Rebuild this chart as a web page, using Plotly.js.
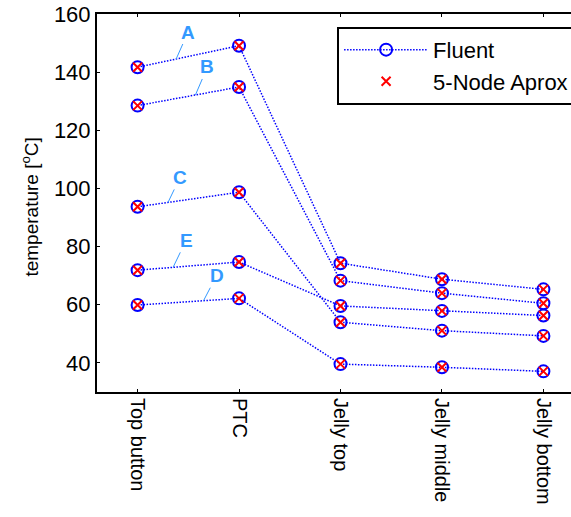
<!DOCTYPE html>
<html>
<head>
<meta charset="utf-8">
<script src="https://cdn.plot.ly/plotly-3.0.1.min.js"></script>
<style>
html, body { margin: 0; padding: 0; overflow: hidden; background: #fff; }
#chart { width: 600px; height: 517px; }
</style>
</head>
<body>
<div id="chart"></div>
<script>
// Categories along the x axis
const categories = ['Top button', 'PTC', 'Jelly top', 'Jelly middle', 'Jelly bottom'];

// Fluent results (temperature, °C) for each case
const fluentA = [141.7, 149.1, 74.3, 68.8, 65.3];
const fluentB = [128.5, 134.9, 68.3, 64.0, 60.5];
const fluentC = [93.7, 98.7, 54.0, 51.1, 49.3];
const fluentD = [59.9, 62.2, 39.6, 38.5, 37.1];
const fluentE = [71.9, 74.7, 59.6, 57.9, 56.3];

// 5-Node approximation results (temperature, °C)
const nodeA = [141.7, 149.1, 74.3, 68.8, 65.3];
const nodeB = [128.5, 134.9, 68.3, 64.0, 60.5];
const nodeC = [93.7, 98.7, 54.0, 51.1, 49.3];
const nodeD = [59.9, 62.2, 39.6, 38.5, 37.1];
const nodeE = [71.9, 74.7, 59.6, 57.9, 56.3];

// Case labels
const caseLabels = ['A', 'B', 'C', 'D', 'E'];
const yTicks = [40, 60, 80, 100, 120, 140, 160];

const fluentSeries = [fluentA, fluentB, fluentC, fluentD, fluentE];
const nodeSeries = [nodeA, nodeB, nodeC, nodeD, nodeE];
const xIdx = categories.map((c, i) => i);

const FONT = 'Arial, "Liberation Sans", Helvetica, sans-serif';
const traces = [];
fluentSeries.forEach((s, k) => {
  traces.push({
    x: xIdx, y: s, type: 'scatter', mode: 'lines+markers',
    name: 'Fluent', legendgroup: 'fluent', showlegend: k === 0,
    line: { color: 'rgb(0,0,255)', width: 1.5, dash: '1.5px,1.5px' },
    marker: { symbol: 'circle-open', size: 12, color: 'rgb(0,0,255)', line: { width: 2, color: 'rgb(0,0,255)' } },
    hoverinfo: 'skip'
  });
});
nodeSeries.forEach((s, k) => {
  traces.push({
    x: xIdx, y: s, type: 'scatter', mode: 'markers',
    name: '5-Node Aprox', legendgroup: 'node', showlegend: k === 0,
    marker: { symbol: 'x-thin-open', size: 9, color: 'rgb(255,0,0)', line: { width: 2, color: 'rgb(255,0,0)' } },
    hoverinfo: 'skip'
  });
});

// label placement along first segment (fraction) and text offsets in px
const labelFrac = { A: 0.38, B: 0.57, C: 0.30, D: 0.65, E: 0.35 };
const labelOff = { A: [12, -27], B: [12, -28], C: [12, -25], D: [13, -25], E: [13, -27] };
const annotations = caseLabels.map((lab, k) => {
  const s = fluentSeries[k];
  const t = labelFrac[lab];
  return {
    x: t, y: s[0] + t * (s[1] - s[0]), xref: 'x', yref: 'y',
    text: '<b>' + lab + '</b>', showarrow: true, arrowhead: 0, arrowwidth: 1,
    arrowcolor: '#3399ff', ax: labelOff[lab][0], ay: labelOff[lab][1],
    font: { family: FONT, size: 19, color: '#3399ff' }
  };
});
// y-axis title as a rotated annotation so it can sit where the reference has it
annotations.push({
  xref: 'paper', yref: 'paper', x: -0.138, y: 0.49, xanchor: 'center', yanchor: 'middle',
  text: 'temperature [<sup>o</sup>C]', textangle: -90, showarrow: false,
  font: { family: FONT, size: 19, color: '#000' }
});

const layout = {
  width: 600, height: 517,
  margin: { l: 97, r: 16, t: 14, b: 125 },
  paper_bgcolor: '#fff', plot_bgcolor: '#fff',
  font: { family: FONT, size: 20, color: '#000' },
  showlegend: true,
  legend: {
    x: 0.493, y: 0.966, xanchor: 'left', yanchor: 'top',
    bordercolor: '#000', borderwidth: 2, bgcolor: '#fff',
    font: { family: FONT, size: 22, color: '#000' },
    itemwidth: 84, tracegroupgap: 0
  },
  xaxis: {
    range: [-0.4, 4.4], tickmode: 'array', tickvals: xIdx, ticktext: categories,
    tickangle: 90, ticks: 'inside', ticklen: 3, tickwidth: 1, tickcolor: '#000',
    showline: true, linecolor: '#000', linewidth: 2, mirror: 'ticks',
    showgrid: false, zeroline: false, tickfont: { family: FONT, size: 20 }
  },
  yaxis: {
    range: [30, 160], tickmode: 'array', tickvals: yTicks,
    ticks: 'inside', ticklen: 3, tickwidth: 1, tickcolor: '#000',
    showline: true, linecolor: '#000', linewidth: 2, mirror: 'ticks',
    showgrid: false, zeroline: false, tickfont: { family: FONT, size: 22 }
  },
  annotations: annotations
};

Plotly.newPlot('chart', traces, layout, { displayModeBar: false, staticPlot: true });
</script>
</body>
</html>
